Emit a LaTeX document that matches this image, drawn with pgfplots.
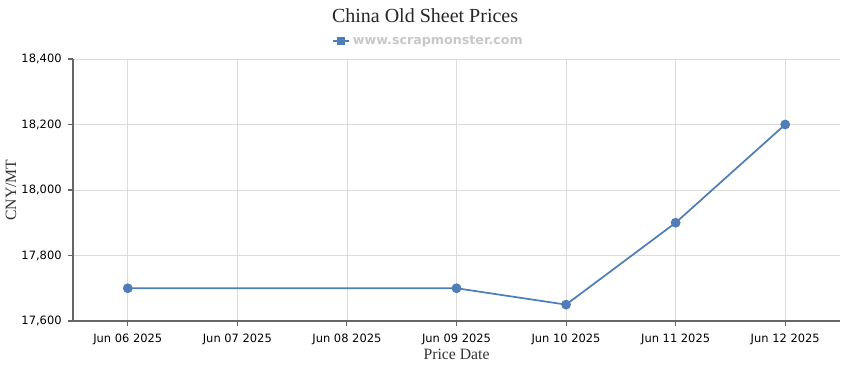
\documentclass[border=0pt]{standalone}
\usepackage{pgfplots}
\pgfplotsset{compat=1.18}
\usepackage{fontspec}
\setmainfont{Liberation Serif}
\newfontfamily\tickfont{DejaVu Sans}
\definecolor{linec}{HTML}{4F7DB8}
\definecolor{gridc}{HTML}{DCDCDC}
\definecolor{axc}{HTML}{666666}
\begin{document}
\begin{tikzpicture}[x=0.75pt,y=0.75pt]
\useasboundingbox (-73,-49) rectangle (777,321);
\begin{axis}[
  at={(0,0)}, anchor=south west,
  scale only axis, width=575.25pt, height=196.5pt,
  xmin=-0.5, xmax=6.5, ymin=17600, ymax=18400,
  xtick={0,1,2,3,4,5,6},
  xticklabels={Jun 06 2025,Jun 07 2025,Jun 08 2025,Jun 09 2025,Jun 10 2025,Jun 11 2025,Jun 12 2025},
  ytick={17600,17800,18000,18200,18400},
  axis x line*=bottom, axis y line*=left,
  axis line style={axc, line width=0.8pt, -},
  grid=major, major grid style={gridc, line width=0.6pt},
  tick style={axc, line width=0.8pt},
  tick align=outside, major tick length=4pt,
  /pgf/number format/assume math mode=true,
  /pgf/number format/1000 sep={,},
  scaled y ticks=false,
  ticklabel style={font=\tickfont\fontsize{8.6}{10}\selectfont, text=black},
  xticklabel style={yshift=-2pt},
  yticklabel style={xshift=-1pt},
  xlabel={Price Date}, ylabel={CNY/MT},
  label style={font=\fontsize{11.8}{13}\selectfont, text=black!80},
  xlabel style={yshift=3.5pt},
  ylabel style={yshift=-3pt},
  title={China Old Sheet Prices},
  title style={font=\fontsize{15}{17}\selectfont, text=black!85, at={(0.459,1.0)}, anchor=south, yshift=18pt},
  legend style={draw=none, fill=none, at={(0.464,1.068)}, anchor=center,
    font=\tickfont\bfseries\fontsize{9.5}{11}\selectfont, text=black!22,
    inner sep=0pt},
  legend image code/.code={
    \draw[linec, line width=1.4pt] (0pt,0pt) -- (12pt,0pt);
    \fill[linec] (3.6pt,-2.4pt) rectangle (8.4pt,2.4pt);
  },
]
\addplot[linec, line width=1.3pt, mark=*, mark size=3pt, mark options={fill=linec, draw=linec}]
  coordinates {(0,17700) (3,17700) (4,17650) (5,17900) (6,18200)};
\addlegendentry{www.scrapmonster.com}
\end{axis}
\end{tikzpicture}
\end{document}
